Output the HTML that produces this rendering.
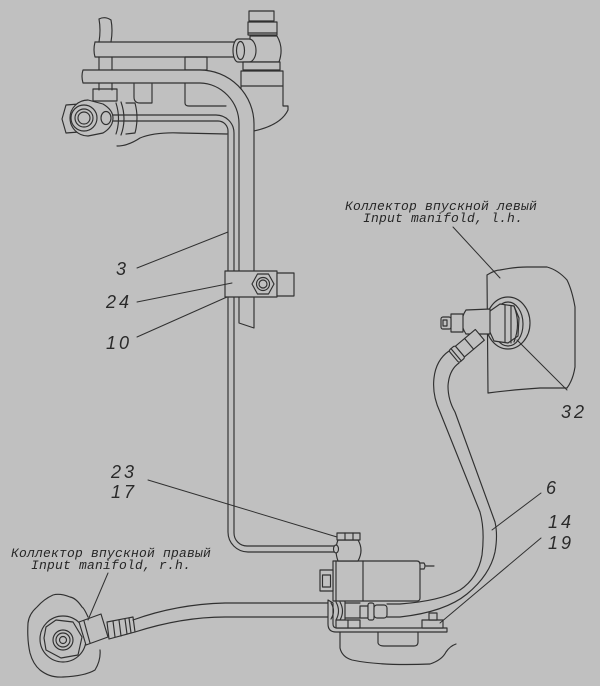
<!DOCTYPE html>
<html><head><meta charset="utf-8"><style>
html,body{margin:0;padding:0;background:#c0c0c0;}
svg{display:block}
.l{fill:none;stroke:#303030;stroke-width:1.15;stroke-linejoin:round;stroke-linecap:round}
.f{fill:#c0c0c0;stroke:#303030;stroke-width:1.15;stroke-linejoin:round}
.n{font-family:"Liberation Sans",sans-serif;font-style:italic;font-size:18px;fill:#2a2a2a;letter-spacing:3px}
.t{font-family:"Liberation Mono","DejaVu Sans Mono",monospace;font-style:italic;font-size:13px;fill:#262626;letter-spacing:0.2px}
</style></head><body>
<svg width="600" height="686" viewBox="0 0 600 686" xmlns="http://www.w3.org/2000/svg">
<rect width="600" height="686" fill="#c0c0c0"/>

<!-- ===== TOP-LEFT ASSEMBLY ===== -->
<!-- vertical bracket behind -->
<path class="l" d="M99,19 Q101,30 99,42 M111,20 Q113,30 111,42 M99,19 Q105,16 111,20 M99,57 L99,70 M112,57 L112,70 M99,83 L99,90 M112,83 L112,90"/>
<!-- upper horizontal pipe -->
<path class="l" d="M95,42 L238,42 M95,57 L238,57 M95,42 Q93,50 95,57"/>
<!-- block between pipes -->
<rect class="l" x="185" y="57" width="22" height="13"/>
<!-- top fitting -->
<rect class="f" x="249" y="11" width="25" height="10"/>
<rect class="f" x="248" y="22" width="29" height="13"/>
<line class="l" x1="248" y1="33" x2="277" y2="33"/>
<path class="f" d="M250,36 L277,36 Q284,48 279,62 L250,62 Z"/>
<path class="f" d="M238,39 L249,39 A7,11.5 0 0 1 249,62 L238,62 A5,11.5 0 0 1 238,39 Z"/>
<ellipse class="l" cx="240.5" cy="50.5" rx="4" ry="9"/>
<rect class="f" x="243" y="62" width="37" height="8"/>
<path class="l" d="M241,71 L283,71 M241,71 L241,90 M241,86 L283,86 M283,71 L283,106 L288,106 L288,110 Q281,125 254,131"/>
<!-- under pipe bracket & small part -->
<path class="l" d="M185,83 L185,103 Q185,106 189,106 L226,106"/>
<path class="l" d="M134,84 L134,97 Q134,103 140,103 L152,103 L152,84"/>
<rect class="l" x="93" y="89" width="24" height="12"/>
<!-- casting outline -->
<path class="l" d="M117,146 Q128,146 140,138 Q155,132 180,133 L227,134"/>
<!-- big pipe + strip -->
<path class="f" d="M83,70 L200,70 A54,54 0 0 1 254,124 L254,328 L239,323 L239,124 A40,41 0 0 0 200,83 L83,83 Q81,76 83,70 Z"/>
<!-- thin tube -->
<path class="l" d="M111,115 L216,115 A18,18 0 0 1 234,133 L234,533 A13,13 0 0 0 247,546 L334,546"/>
<path class="l" d="M111,121 L218,121 A10,10 0 0 1 228,131 L228,532 A20,20 0 0 0 248,552 L334,552"/>
<!-- left banjo fitting -->
<path class="f" d="M66,105 L79,104 L82,118 L79,132 L66,133 L62,119 Z"/>
<path class="f" d="M88,100 L103,104 Q113,110 113,118 Q113,127 103,133 L88,136 A18,18 0 0 1 88,100 Z"/>
<circle class="l" cx="84" cy="118" r="13"/>
<circle class="l" cx="84" cy="118" r="9"/>
<circle class="l" cx="84" cy="118" r="6"/>
<ellipse class="f" cx="106" cy="118" rx="5" ry="6.5"/>
<path class="l" d="M116,103 Q121,119 116,134 M121,102 Q127,119 121,135 M126,103 L135,103 Q139,118 135,133 L126,134"/>

<!-- clamp -->
<rect class="f" x="225" y="271" width="52" height="26"/>
<rect class="f" x="277" y="273" width="17" height="23"/>
<polygon class="l" points="252,284 257.5,274 268.5,274 274,284 268.5,294 257.5,294"/>
<circle class="l" cx="263" cy="284" r="6.5"/>
<circle class="l" cx="263" cy="284" r="4"/>

<!-- ===== RIGHT MANIFOLD ===== -->
<path class="l" d="M487,275 Q495,270 500,270 Q515,267 527,267 L547,267 Q558,270 567,280 Q572,290 575,307 L575,367 Q573,380 567,388 L540,388 Q510,390 488,393 L487,275"/>
<ellipse class="f" cx="508" cy="323" rx="22" ry="26"/>
<ellipse class="l" cx="508" cy="324" rx="15" ry="22"/>
<polygon class="f" points="490,311 500,304 514,306 519,318 518,336 508,343 494,341 489,330"/>
<path class="l" d="M505,305 L505,342 M511,306 L511,343 M514,306 Q521,324 514,342"/>
<path class="f" d="M466,310 L490,309 L490,334 L466,334 Q458,322 466,310 Z"/>
<rect class="f" x="451" y="314" width="12" height="18"/>
<rect class="f" x="441" y="317" width="10" height="12" rx="2"/>
<rect class="l" x="443" y="320" width="4" height="6"/>
<!-- elbow + ferrule of hose 6 -->
<g transform="translate(463,349) rotate(-40)">
<rect class="f" x="-4" y="-7" width="26" height="14"/>
<line class="l" x1="8" y1="-7" x2="8" y2="7"/>
<rect class="f" x="-12" y="-8" width="8" height="16" rx="2"/>
<line class="l" x1="-9" y1="-8" x2="-9" y2="8"/>
</g>
<!-- hose 6 -->
<path class="l" d="M449,351 Q436,360 434,378 Q432,395 440,412 L480,512 Q485,530 482,555 Q478,578 460,590 Q440,601 400,604 L387,604"/>
<path class="l" d="M459,363 Q449,370 448,386 Q448,400 455,412 L495,522 Q498,535 495,552 Q490,575 467,594 Q445,612 400,617 L387,617"/>

<!-- ===== LEFT MANIFOLD ===== -->
<path class="l" d="M88,617 Q84,608 82,607 Q76,598 70,597 Q60,593 53,595 Q44,599 37,607 Q29,614 28,623 Q27,640 30,653 Q33,664 40,670 Q50,678 63,677 Q85,676 95,670 Q101,660 100,650"/>
<circle class="l" cx="63" cy="639" r="23"/>
<polygon class="f" points="46,627 56,620 73,622 82,637 78,655 61,658 46,650 44,638"/>
<circle class="l" cx="63" cy="640" r="10"/>
<circle class="l" cx="63" cy="640" r="7"/>
<circle class="l" cx="63" cy="640" r="3.5"/>
<polygon class="f" points="79,622 101,614 108,637 86,645"/>
<line class="l" x1="84" y1="621" x2="90" y2="643"/>
<polygon class="f" points="107,622 133,617 135,632 109,639"/>
<path class="l" d="M113,621 L115,637 M119,620 L121,636 M125,619 L127,634 M129,618 L131,633"/>
<!-- left hose -->
<path class="l" d="M133,620 C155,612 185,604 225,603 L330,603"/>
<path class="l" d="M135,632 C160,624 190,617 225,617 L330,617"/>

<!-- ===== SOLENOID BLOCK ===== -->
<path class="l" d="M340,632 L340,648 Q342,657 352,660 Q380,666 430,664 Q442,660 446,652 Q450,646 456,644"/>
<path class="l" d="M378,632 L378,643 Q379,646 384,646 L414,646 Q418,646 418,642 L418,632"/>
<path class="f" d="M328,600 L328,624 Q328,632 336,632 L447,632 L447,628 L337,628 Q333,628 333,624 L333,603 Z"/>
<path class="l" d="M345,603 L360,603 M345,618 L360,618"/>
<path class="l" d="M331,603 Q336,611 331,619 M336,602 Q341,611 336,620 M340,602 Q345,611 340,620 M345,601 L345,620"/>
<rect class="f" x="336" y="620" width="24" height="8"/>
<line class="l" x1="348" y1="620" x2="348" y2="628"/>
<rect class="f" x="360" y="606" width="8" height="12"/>
<rect class="f" x="368" y="603" width="6" height="17" rx="2"/>
<rect class="f" x="374" y="605" width="13" height="13" rx="3"/>
<rect class="f" x="422" y="620" width="21" height="8"/>
<rect class="f" x="429" y="613" width="8" height="7"/>
<path class="f" d="M333,561 L417,561 Q420,561 420,565 L420,598 Q420,601 417,601 L333,601 Z"/>
<line class="l" x1="363" y1="561" x2="363" y2="601"/>
<line class="l" x1="336" y1="561" x2="336" y2="601"/>
<rect class="f" x="320" y="570" width="13" height="21"/>
<rect class="l" x="322.5" y="575" width="8" height="12"/>
<path class="l" d="M420,563 L424,563 Q426,566 424,569 L420,569 M426,566 L434,566"/>
<path class="f" d="M338,540 L358,540 Q364,550 358,561 L338,561 Q334,550 338,540 Z"/>
<rect class="f" x="337" y="533" width="23" height="7"/>
<path class="l" d="M345,533 L345,540 M353,533 L353,540"/>
<ellipse class="f" cx="336" cy="549" rx="2.5" ry="4"/>

<!-- ===== LEADERS ===== -->
<g class="l" style="stroke-width:1">
<line x1="137" y1="268" x2="228" y2="232"/>
<line x1="137" y1="302" x2="232" y2="283"/>
<line x1="137" y1="337" x2="227" y2="297"/>
<line x1="148" y1="480" x2="337" y2="537"/>
<line x1="541" y1="493" x2="492" y2="530"/>
<line x1="541" y1="538" x2="440" y2="623"/>
<line x1="517" y1="340" x2="567" y2="390"/>
<line x1="453" y1="227" x2="500" y2="278"/>
<line x1="108" y1="573" x2="88" y2="620"/>
</g>

<!-- ===== TEXT ===== -->
<text class="t" x="345" y="210">Коллектор впускной левый</text>
<text class="t" x="363" y="222">Input manifold, l.h.</text>
<text class="t" x="11" y="557">Коллектор впускной правый</text>
<text class="t" x="31" y="569">Input manifold, r.h.</text>

<text class="n" x="116" y="275">3</text>
<text class="n" x="106" y="308">24</text>
<text class="n" x="106" y="349">10</text>
<text class="n" x="111" y="478">23</text>
<text class="n" x="111" y="498">17</text>
<text class="n" x="546" y="494">6</text>
<text class="n" x="548" y="528">14</text>
<text class="n" x="548" y="549">19</text>
<text class="n" x="561" y="418">32</text>
</svg>
</body></html>
